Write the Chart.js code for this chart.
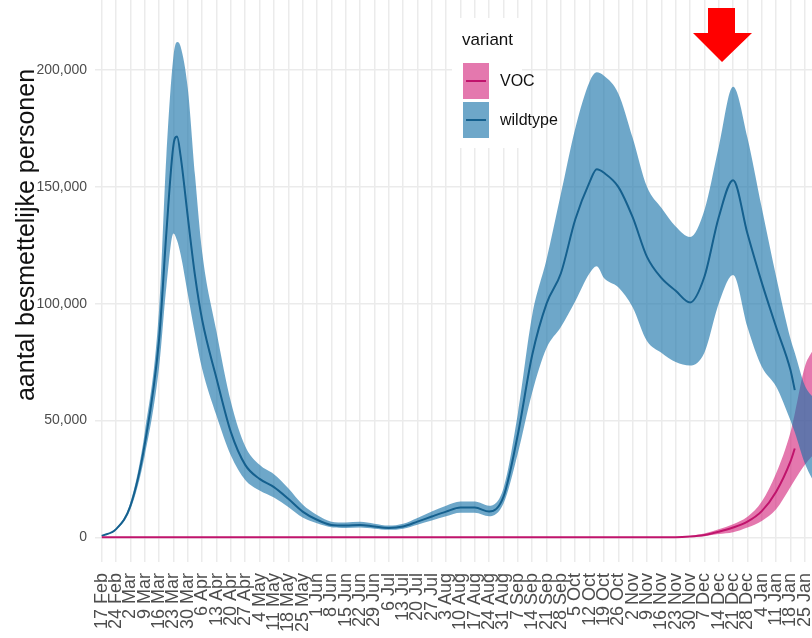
<!DOCTYPE html>
<html lang="nl">
<head>
    <meta charset="UTF-8">
    <title>Besmettelijke personen per variant</title>
    <style>
        body {
            margin: 0;
            padding: 0;
            background: #fff;
            font-family: "Liberation Sans", Arial, sans-serif;
        }

        .wrap {
            position: relative;
            width: 812px;
            height: 638px;
            overflow: hidden;
        }

        canvas {
            width: 100% !important;
            height: 100% !important;
        }

        .y-title {
            position: absolute;
            left: -175px;
            top: 222px;
            width: 400px;
            text-align: center;
            font-size: 25px;
            line-height: 26px;
            color: #111;
            transform: rotate(-90deg);
            white-space: nowrap;
        }

        .legend-box {
            position: absolute;
            left: 452px;
            top: 18px;
            width: 70px;
            height: 130px;
            background: #fff;
        }

        .legend-title {
            position: absolute;
            left: 462px;
            top: 31px;
            font-size: 17px;
            line-height: 17px;
            color: #111;
        }

        .legend-key {
            position: absolute;
            left: 463px;
            width: 26px;
            height: 36px;
        }

        .legend-key span {
            position: absolute;
            left: 3px;
            right: 3px;
            top: 17px;
            height: 2px;
        }

        .legend-label {
            position: absolute;
            left: 500px;
            font-size: 16px;
            line-height: 16px;
            color: #111;
        }

        .arrow {
            position: absolute;
            left: 693px;
            top: 0;
            width: 59px;
            height: 62px;
            background: #ff0000;
            clip-path: polygon(15px 8px, 42px 8px, 42px 33px, 59px 33px, 29px 62px, 0 33px, 15px 33px);
        }
    </style>
</head>
<body>

<div class="wrap">
    <canvas id="chart"></canvas>

    <div class="y-title">aantal besmettelijke personen</div>

    <div class="legend-box"></div>
    <div class="legend-title">variant</div>
    <div class="legend-key" style="top: 63px; background: rgba(210, 30, 120, 0.6);"><span style="background: #c0146c;"></span></div>
    <div class="legend-label" style="top: 73px;">VOC</div>
    <div class="legend-key" style="top: 102px; background: rgba(25, 115, 170, 0.63);"><span style="background: #15608e;"></span></div>
    <div class="legend-label" style="top: 112px;">wildtype</div>

    <div class="arrow"></div>
</div>

<script src="https://cdn.jsdelivr.net/npm/chart.js"></script>

<script>
    // weken vanaf 17 februari
    const weekLabels = [
        '17 Feb', '24 Feb', '2 Mar', '9 Mar', '16 Mar', '23 Mar', '30 Mar',
        '6 Apr', '13 Apr', '20 Apr', '27 Apr', '4 May', '11 May', '18 May', '25 May',
        '1 Jun', '8 Jun', '15 Jun', '22 Jun', '29 Jun', '6 Jul', '13 Jul', '20 Jul', '27 Jul',
        '3 Aug', '10 Aug', '17 Aug', '24 Aug', '31 Aug', '7 Sep', '14 Sep', '21 Sep', '28 Sep',
        '5 Oct', '12 Oct', '19 Oct', '26 Oct', '2 Nov', '9 Nov', '16 Nov', '23 Nov', '30 Nov',
        '7 Dec', '14 Dec', '21 Dec', '28 Dec', '4 Jan', '11 Jan', '18 Jan', '25 Jan'
    ];

    const yTicks = [0, 50000, 100000, 150000, 200000];

    // positie in weken (0 = 17 Feb)
    const weekPos = [
        0, 1, 2, 3, 4, 4.5, 5, 5.25, 5.5, 6, 6.5, 7, 8, 9, 10, 11, 12, 13, 14, 15,
        16, 17, 18, 19, 20, 21, 22, 23, 24, 25, 26, 27, 28, 29, 30, 31, 32, 33, 34, 34.5,
        35, 36, 37, 38, 39, 40, 41, 42, 43, 44, 45, 46, 47, 48, 48.3, 49, 49.55
    ];

    const wildMean = [
        600, 3500, 13500, 40000, 85000, 130000, 168000, 171500, 163000, 137000, 112000, 93000, 68000, 45000, 31000, 25000, 21500, 16500, 11000, 7500,
        5300, 5000, 5300, 4600, 4000, 4600, 6700, 8900, 11000, 12700, 12700, 11000, 17400, 44000, 78000, 100000, 113000, 136000, 152000, 157500,
        156000, 150000, 137000, 120000, 111000, 105500, 100500, 111500, 137000, 152800, 130000, 109000, 90000, 71600, 63000, null, null
    ];
    const wildHigh = [
        700, 3900, 15000, 45000, 98000, 163000, 206000, 212000, 210000, 192000, 155000, 122000, 88000, 58000, 39000, 31000, 27000, 21000, 14000, 9500,
        6700, 6300, 6600, 5800, 5000, 5800, 8300, 11000, 13500, 15300, 15300, 13500, 21000, 53000, 95000, 119000, 147000, 175000, 195000, 199000,
        197500, 190000, 171000, 150000, 141000, 133000, 128500, 140000, 167000, 192800, 171000, 141000, 111600, 85000, 79000, 65000, 60000
    ];
    const wildLow = [
        500, 3100, 12000, 35000, 73000, 107000, 130000, 127000, 121000, 104000, 87000, 72000, 52000, 35000, 24500, 20000, 17000, 13000, 8500, 6000,
        4300, 4000, 4200, 3700, 3200, 3700, 5400, 7200, 9000, 10500, 10500, 9000, 14500, 36000, 62000, 81000, 90000, 101000, 113000, 116000,
        111000, 107000, 98500, 84000, 79000, 75000, 73500, 79000, 100000, 112300, 90000, 73000, 64500, 50000, 45000, 31700, 24500
    ];

    const vocMean = [
        0, 0, 0, 0, 0, 0, 0, 0, 0, 0, 0, 0, 0, 0, 0, 0, 0, 0, 0, 0,
        0, 0, 0, 0, 0, 0, 0, 0, 0, 0, 0, 0, 0, 0, 0, 0, 0, 0, 0, 0,
        0, 0, 0, 0, 0, 0, 300, 1000, 2400, 4200, 6700, 11200, 19500, 32500, 38000, null, null
    ];
    const vocHigh = [
        0, 0, 0, 0, 0, 0, 0, 0, 0, 0, 0, 0, 0, 0, 0, 0, 0, 0, 0, 0,
        0, 0, 0, 0, 0, 0, 0, 0, 0, 0, 0, 0, 0, 0, 0, 0, 0, 0, 0, 0,
        0, 0, 0, 0, 0, 0, 600, 1600, 3400, 5600, 8800, 15300, 27400, 45000, 53000, 73000, 80000
    ];
    const vocLow = [
        0, 0, 0, 0, 0, 0, 0, 0, 0, 0, 0, 0, 0, 0, 0, 0, 0, 0, 0, 0,
        0, 0, 0, 0, 0, 0, 0, 0, 0, 0, 0, 0, 0, 0, 0, 0, 0, 0, 0, 0,
        0, 0, 0, 0, 0, 0, 100, 500, 1400, 2200, 4200, 7000, 12000, 21500, 24500, 31000, 35000
    ];

    const toXY = arr => weekPos.map((p, i) => ({ x: p, y: arr[i] }));

    const noLine = 'rgba(0,0,0,0)';
    const fontFamily = '"Liberation Sans", Arial, sans-serif';

    const ctx = document.getElementById('chart').getContext('2d');
    const chart = new Chart(ctx, {
        type: 'line',
        data: {
            datasets: [
                { label: 'VOC', data: toXY(vocMean), borderColor: '#c0146c', borderWidth: 2, pointRadius: 0, fill: false },
                { label: 'wildtype', data: toXY(wildMean), borderColor: '#15608e', borderWidth: 2, pointRadius: 0, fill: false },
                { label: 'wildtype hoog', data: toXY(wildHigh), borderColor: noLine, borderWidth: 0, pointRadius: 0,
                  fill: '+1', backgroundColor: 'rgba(25, 115, 170, 0.63)' },
                { label: 'wildtype laag', data: toXY(wildLow), borderColor: noLine, borderWidth: 0, pointRadius: 0, fill: false },
                { label: 'VOC hoog', data: toXY(vocHigh), borderColor: noLine, borderWidth: 0, pointRadius: 0,
                  fill: '+1', backgroundColor: 'rgba(210, 30, 120, 0.6)' },
                { label: 'VOC laag', data: toXY(vocLow), borderColor: noLine, borderWidth: 0, pointRadius: 0, fill: false }
            ]
        },
        options: {
            responsive: true,
            maintainAspectRatio: false,
            animation: false,
            events: [],
            layout: { padding: 0 },
            elements: { line: { cubicInterpolationMode: 'monotone' } },
            plugins: {
                legend: { display: false },
                tooltip: { enabled: false }
            },
            scales: {
                x: {
                    type: 'linear',
                    min: -0.47,
                    max: 49.5,
                    afterBuildTicks: s => { s.ticks = weekLabels.map((_, i) => ({ value: i })); },
                    afterFit: s => { s.height = 76; s.paddingLeft = 0; s.paddingRight = 0; },
                    grid: { color: '#ebebeb', lineWidth: 1.5, drawTicks: false },
                    border: { display: false },
                    ticks: {
                        autoSkip: false,
                        minRotation: 90,
                        maxRotation: 90,
                        padding: 11,
                        color: '#4d4d4d',
                        font: { size: 18, family: fontFamily },
                        callback: (v, i) => weekLabels[i]
                    }
                },
                y: {
                    min: -10574,
                    max: 229967,
                    afterBuildTicks: s => { s.ticks = yTicks.map(v => ({ value: v })); },
                    afterFit: s => { s.width = 95; s.paddingTop = 0; s.paddingBottom = 0; },
                    grid: { color: '#ebebeb', lineWidth: 1.5, drawTicks: false },
                    border: { display: false },
                    ticks: {
                        padding: 8,
                        color: '#4d4d4d',
                        font: { size: 14, family: fontFamily },
                        callback: v => v.toLocaleString('en-US')
                    }
                }
            }
        }
    });
</script>

</body>
</html>
